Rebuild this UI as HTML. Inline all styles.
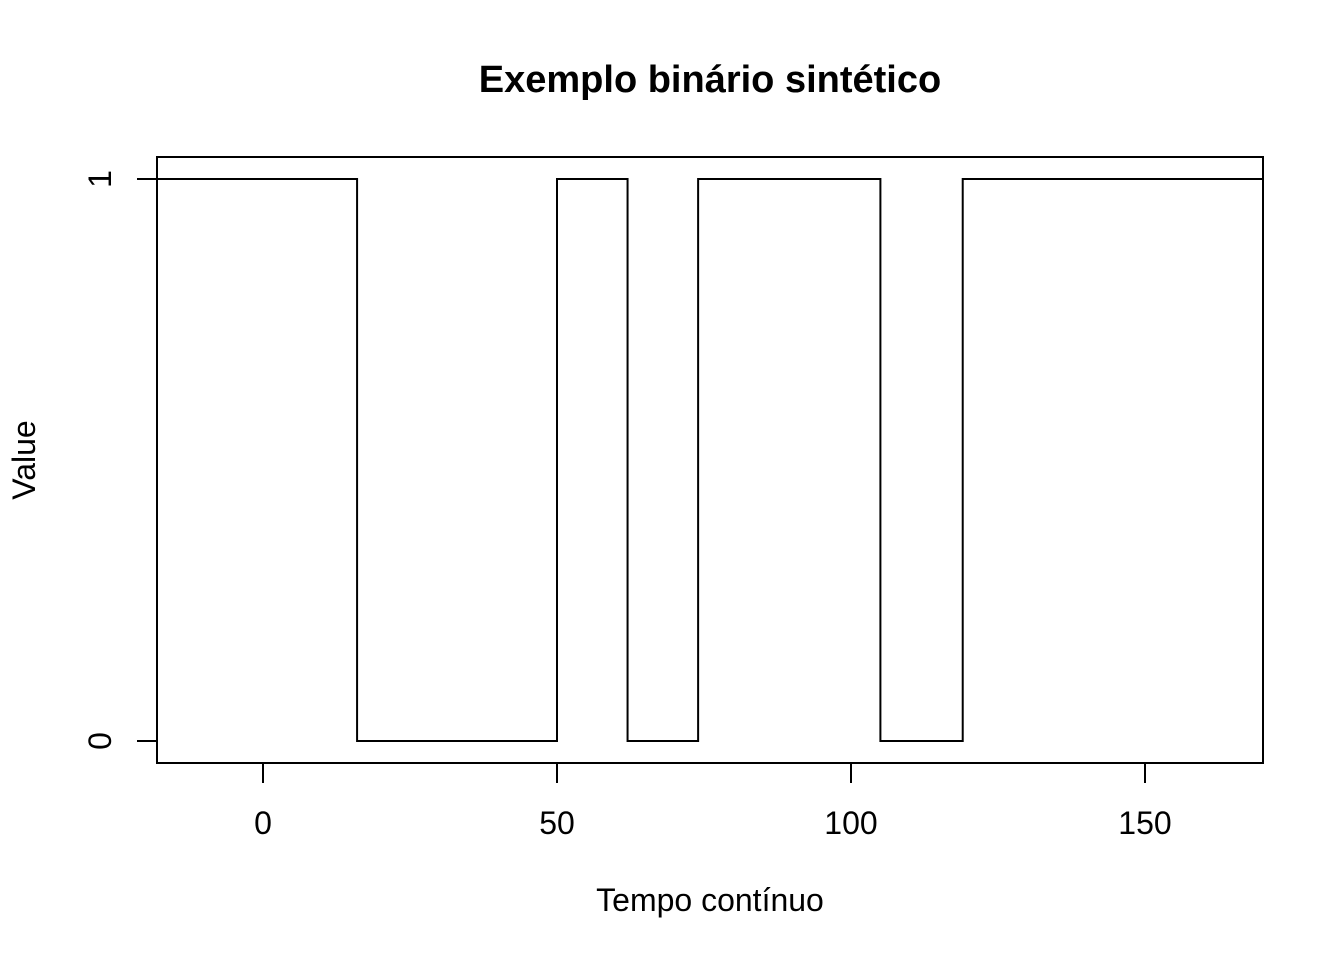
<!DOCTYPE html>
<html><head><meta charset="utf-8"><style>
html,body{margin:0;padding:0;background:#fff;}
svg{display:block;font-family:"Liberation Sans",Arial,sans-serif;}
</style></head><body>
<svg id="chart" width="1344" height="960" xmlns="http://www.w3.org/2000/svg">
<rect width="1344" height="960" fill="#fff"/>
<text x="710" y="80" font-size="38" font-weight="bold" text-anchor="middle" dominant-baseline="central">Exemplo binário sintético</text>
<rect x="157" y="157" width="1106" height="606" fill="none" stroke="#000" stroke-width="2"/>
<g id="xaxis"></g>
<g id="yaxis"></g>
<text x="710" y="900" font-size="32" text-anchor="middle" dominant-baseline="central">Tempo contínuo</text>
<text x="24" y="460" font-size="32" text-anchor="middle" dominant-baseline="central" transform="rotate(-90 24 460)">Value</text>
<path id="series" fill="none" stroke="#000" stroke-width="2"/>
</svg>
<script>
const changeTimes = [-18, 16, 50, 62, 74, 105, 119, 170];
const stepValues = [1, 0, 1, 0, 1, 0, 1];
const xTicks = [0, 50, 100, 150];
const yTicks = [0, 1];
const NS = "http://www.w3.org/2000/svg";
function sx(v){ return 263 + (v - 0) * 5.88; }
function sy(v){ return 741 - v * 562; }
let d = "";
for (let i = 0; i < stepValues.length; i++) {
  const x0 = sx(changeTimes[i]), x1 = sx(changeTimes[i+1]), y = sy(stepValues[i]);
  d += (i === 0 ? "M" : "L") + x0 + "," + y + " L" + x1 + "," + y + " ";
}
document.getElementById("series").setAttribute("d", d);
const xa = document.getElementById("xaxis");
xTicks.forEach(t => {
  const l = document.createElementNS(NS, "line");
  
  
  l.setAttribute("x1", sx(t)); l.setAttribute("x2", sx(t));
  l.setAttribute("y1", 763); l.setAttribute("y2", 783);
  l.setAttribute("stroke", "#000"); l.setAttribute("stroke-width", "2");
  xa.appendChild(l);
  const tx = document.createElementNS(NS, "text");
  
  
  tx.setAttribute("x", sx(t)); tx.setAttribute("y", 823);
  tx.setAttribute("font-size", "32"); tx.setAttribute("text-anchor", "middle");
  tx.setAttribute("dominant-baseline", "central");
  tx.textContent = t;
  xa.appendChild(tx);
});
const ya = document.getElementById("yaxis");
yTicks.forEach(t => {
  const l = document.createElementNS(NS, "line");
  
  
  l.setAttribute("x1", 137); l.setAttribute("x2", 157);
  l.setAttribute("y1", sy(t)); l.setAttribute("y2", sy(t));
  l.setAttribute("stroke", "#000"); l.setAttribute("stroke-width", "2");
  ya.appendChild(l);
  const tx = document.createElementNS(NS, "text");
  
  
  tx.setAttribute("x", 100); tx.setAttribute("y", sy(t));
  tx.setAttribute("font-size", "32"); tx.setAttribute("text-anchor", "middle");
  tx.setAttribute("dominant-baseline", "central");
  tx.setAttribute("transform", "rotate(-90 100 " + sy(t) + ")");
  tx.textContent = t;
  ya.appendChild(tx);
});
</script>
</body></html>
